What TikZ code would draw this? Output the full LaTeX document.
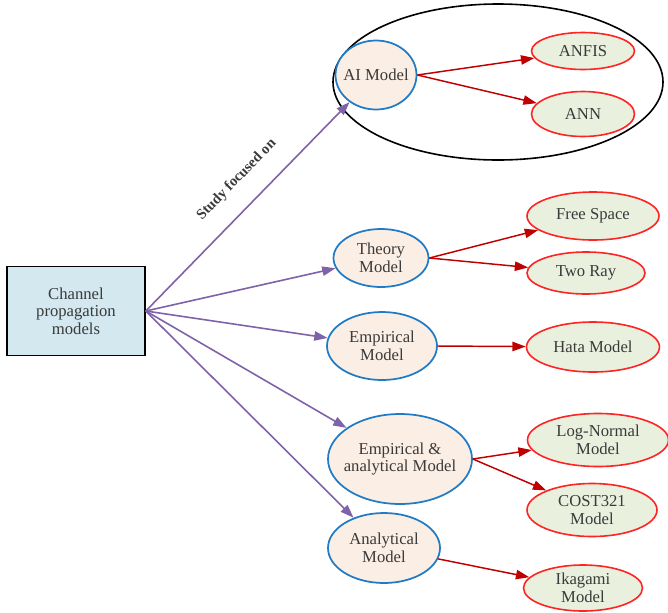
\documentclass[tikz,border=0pt]{standalone}
\usepackage{fontspec}
\setmainfont{Liberation Serif}
\usepackage{tikz}
\usetikzlibrary{arrows.meta,shapes.geometric}
\definecolor{ink}{HTML}{3A3A3A}
\definecolor{boxFill}{HTML}{D3E8EF}
\definecolor{modelFill}{HTML}{FBEEE4}
\definecolor{modelBlue}{HTML}{1F7BC6}
\definecolor{leafFill}{HTML}{EAF0DE}
\definecolor{leafRed}{HTML}{FF2424}
\definecolor{resultRed}{HTML}{C00000}
\definecolor{studyPurple}{HTML}{7E63A8}
\newcommand{\modelFont}{\fontsize{12.5}{13.2}\selectfont}
\tikzset{
  rootBox/.style={draw=black, line width=1.2pt, fill=boxFill, text=ink, align=center,
    minimum width=103.5pt, minimum height=66.75pt, font=\modelFont},
  modelNode/.style={ellipse, draw=modelBlue, line width=1.3pt, fill=modelFill, text=ink,
    align=center, inner xsep=-14pt, inner ysep=-6pt, font=\modelFont},
  leafNode/.style={ellipse, draw=leafRed, line width=1.2pt, fill=leafFill, text=ink,
    align=center, inner xsep=-14pt, inner ysep=-6pt, font=\modelFont},
  groupOval/.style={ellipse, draw=black, line width=1.2pt, minimum width=247.5pt, minimum height=117pt},
  studyArrow/.style={draw=studyPurple, line width=1.2pt, -{Triangle[length=10pt,width=7pt]}},
  resultArrow/.style={draw=resultRed, line width=1.1pt, -{Triangle[length=10pt,width=7pt]}},
  studyLabel/.style={font=\fontsize{11}{12}\selectfont\bfseries, text=ink, sloped}
}

\begin{document}
\begin{tikzpicture}[x=0.75pt, y=-0.75pt]
  \useasboundingbox (0,0) rectangle (668,612);

  % group round the AI branch
  \node[groupOval] (aiGroup) at (498,82) {};

  \node[rootBox] (box) at (76,311) {Channel\\propagation\\models};

  % model families
  \node[modelNode, minimum width=60.75pt, minimum height=51.75pt] (ai) at (376,75) {AI Model};
  \node[modelNode, minimum width=71.25pt, minimum height=43.5pt] (theory) at (381,258) {Theory\\Model};
  \node[modelNode, minimum width=82.5pt, minimum height=51pt] (empirical) at (382,346) {Empirical\\Model};
  \node[modelNode, minimum width=108pt, minimum height=67.5pt] (empAna) at (400,459) {Empirical \&\\analytical Model};
  \node[modelNode, minimum width=84pt, minimum height=52.5pt] (analytical) at (384,548) {Analytical\\Model};

  % models
  \node[leafNode, minimum width=77.25pt, minimum height=27.75pt] (anfis) at (583,51) {ANFIS};
  \node[leafNode, minimum width=77.25pt, minimum height=33.75pt] (ann) at (583,114) {ANN};
  \node[leafNode, minimum width=99pt, minimum height=36pt] (freeSpace) at (593,216) {Free Space};
  \node[leafNode, minimum width=88.5pt, minimum height=31.5pt] (twoRay) at (586,273) {Two Ray};
  \node[leafNode, minimum width=99.75pt, minimum height=37.5pt] (hata) at (593,347) {Hata Model};
  \node[leafNode, minimum width=105.75pt, minimum height=39.75pt] (logNormal) at (598,440) {Log-Normal\\Model};
  \node[leafNode, minimum width=97.5pt, minimum height=39.75pt] (cost) at (592,510) {COST321\\Model};
  \node[leafNode, minimum width=89.25pt, minimum height=34.5pt] (ikagami) at (583,588) {Ikagami\\Model};

  % study arrows
  \draw[studyArrow] (box.east) -- node[studyLabel, above=11pt, pos=0.54] {Study focused on} (ai);
  \draw[studyArrow] (box.east) -- (theory);
  \draw[studyArrow] (box.east) -- (empirical);
  \draw[studyArrow] (box.east) -- (empAna);
  \draw[studyArrow] (box.east) -- (analytical);

  % result arrows
  \draw[resultArrow] (ai.east) -- (anfis);
  \draw[resultArrow] (ai.east) -- (ann);
  \draw[resultArrow] (theory.east) -- (freeSpace);
  \draw[resultArrow] (theory.east) -- (twoRay);
  \draw[resultArrow] (empirical.east) -- (hata);
  \draw[resultArrow] (empAna.east) -- (logNormal);
  \draw[resultArrow] (empAna.east) -- (cost);
  \draw[resultArrow] (analytical) -- (ikagami);
\end{tikzpicture}
\end{document}
